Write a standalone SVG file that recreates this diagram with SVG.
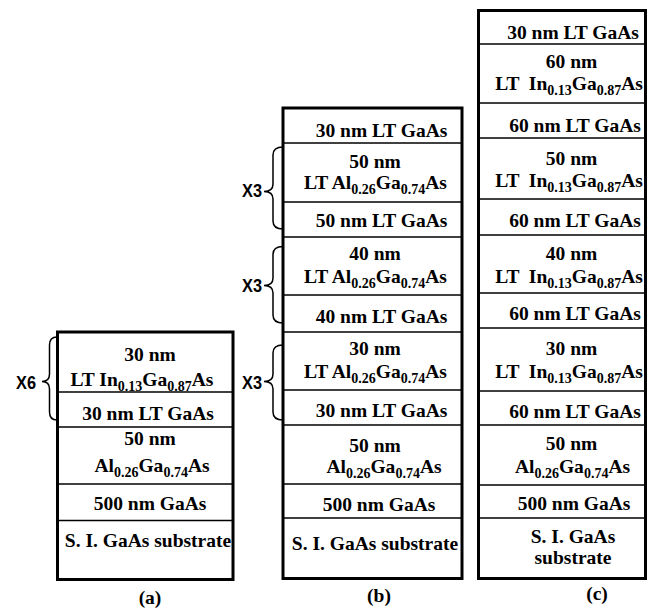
<svg xmlns="http://www.w3.org/2000/svg" width="647" height="610" viewBox="0 0 647 610">
<style>
.box{fill:#fff;stroke:#000;stroke-width:3}
.div{stroke:#000;stroke-width:1.5}
.t{font-family:"Liberation Serif","Times New Roman",serif;font-weight:bold;font-size:19.5px;fill:#000;text-anchor:middle}
.s{font-size:14px}
.x{font-family:"Liberation Sans",Arial,sans-serif;font-weight:bold;font-size:19px;fill:#000;text-anchor:end}
.br{fill:none;stroke:#000;stroke-width:1.5}
</style>
<rect width="647" height="610" fill="#fff"/>
<g id="column-a">
<rect class="box" x="57.5" y="332" width="175.5" height="247.5"/>
<line class="div" x1="57.5" y1="392" x2="233" y2="392"/>
<line class="div" x1="57.5" y1="427" x2="233" y2="427"/>
<line class="div" x1="57.5" y1="484" x2="233" y2="484"/>
<line class="div" x1="57.5" y1="520.5" x2="233" y2="520.5"/>
<text class="t" x="150" y="361">30 nm</text>
<text class="t" x="142" y="386">LT In<tspan class="s" dy="5">0.13</tspan><tspan dy="-5">Ga</tspan><tspan class="s" dy="5">0.87</tspan><tspan dy="-5">As</tspan></text>
<text class="t" x="148" y="420">30 nm LT GaAs</text>
<text class="t" x="150" y="444.5">50 nm</text>
<text class="t" x="152" y="472">Al<tspan class="s" dy="5">0.26</tspan><tspan dy="-5">Ga</tspan><tspan class="s" dy="5">0.74</tspan><tspan dy="-5">As</tspan></text>
<text class="t" x="150" y="510">500 nm GaAs</text>
<text class="t" x="148" y="547">S. I. GaAs substrate</text>
<text class="t" x="150" y="604">(a)</text>
</g>
<g id="column-b">
<rect class="box" x="283" y="108" width="179" height="470.5"/>
<line class="div" x1="283" y1="143" x2="462" y2="143"/>
<line class="div" x1="283" y1="202" x2="462" y2="202"/>
<line class="div" x1="283" y1="237" x2="462" y2="237"/>
<line class="div" x1="283" y1="295" x2="462" y2="295"/>
<line class="div" x1="283" y1="332" x2="462" y2="332"/>
<line class="div" x1="283" y1="390" x2="462" y2="390"/>
<line class="div" x1="283" y1="425" x2="462" y2="425"/>
<line class="div" x1="283" y1="484" x2="462" y2="484"/>
<line class="div" x1="283" y1="518" x2="462" y2="518"/>
<text class="t" x="381.5" y="137">30 nm LT GaAs</text>
<text class="t" x="375" y="168">50 nm</text>
<text class="t" x="375.5" y="189">LT Al<tspan class="s" dy="5">0.26</tspan><tspan dy="-5">Ga</tspan><tspan class="s" dy="5">0.74</tspan><tspan dy="-5">As</tspan></text>
<text class="t" x="381.5" y="227">50 nm LT GaAs</text>
<text class="t" x="375" y="260">40 nm</text>
<text class="t" x="375.5" y="283">LT Al<tspan class="s" dy="5">0.26</tspan><tspan dy="-5">Ga</tspan><tspan class="s" dy="5">0.74</tspan><tspan dy="-5">As</tspan></text>
<text class="t" x="381.5" y="323">40 nm LT GaAs</text>
<text class="t" x="375" y="355">30 nm</text>
<text class="t" x="375.5" y="378">LT Al<tspan class="s" dy="5">0.26</tspan><tspan dy="-5">Ga</tspan><tspan class="s" dy="5">0.74</tspan><tspan dy="-5">As</tspan></text>
<text class="t" x="381.5" y="417">30 nm LT GaAs</text>
<text class="t" x="375" y="452">50 nm</text>
<text class="t" x="384" y="473">Al<tspan class="s" dy="5">0.26</tspan><tspan dy="-5">Ga</tspan><tspan class="s" dy="5">0.74</tspan><tspan dy="-5">As</tspan></text>
<text class="t" x="379" y="511">500 nm GaAs</text>
<text class="t" x="375" y="550">S. I. GaAs substrate</text>
<text class="t" x="379" y="602">(b)</text>
</g>
<g id="column-c">
<rect class="box" x="478.5" y="10.5" width="167" height="568"/>
<line class="div" x1="478.5" y1="44" x2="645.5" y2="44"/>
<line class="div" x1="478.5" y1="103" x2="645.5" y2="103"/>
<line class="div" x1="478.5" y1="138" x2="645.5" y2="138"/>
<line class="div" x1="478.5" y1="199" x2="645.5" y2="199"/>
<line class="div" x1="478.5" y1="235" x2="645.5" y2="235"/>
<line class="div" x1="478.5" y1="293" x2="645.5" y2="293"/>
<line class="div" x1="478.5" y1="328" x2="645.5" y2="328"/>
<line class="div" x1="478.5" y1="391" x2="645.5" y2="391"/>
<line class="div" x1="478.5" y1="425" x2="645.5" y2="425"/>
<line class="div" x1="478.5" y1="485" x2="645.5" y2="485"/>
<line class="div" x1="478.5" y1="518" x2="645.5" y2="518"/>
<text class="t" x="573" y="38.5">30 nm LT GaAs</text>
<text class="t" x="571.5" y="68">60 nm</text>
<text class="t" x="569" y="90" xml:space="preserve">LT  In<tspan class="s" dy="5">0.13</tspan><tspan dy="-5">Ga</tspan><tspan class="s" dy="5">0.87</tspan><tspan dy="-5">As</tspan></text>
<text class="t" x="575" y="132">60 nm LT GaAs</text>
<text class="t" x="571.5" y="165">50 nm</text>
<text class="t" x="569" y="187" xml:space="preserve">LT  In<tspan class="s" dy="5">0.13</tspan><tspan dy="-5">Ga</tspan><tspan class="s" dy="5">0.87</tspan><tspan dy="-5">As</tspan></text>
<text class="t" x="575" y="227">60 nm LT GaAs</text>
<text class="t" x="571.5" y="260">40 nm</text>
<text class="t" x="569" y="283" xml:space="preserve">LT  In<tspan class="s" dy="5">0.13</tspan><tspan dy="-5">Ga</tspan><tspan class="s" dy="5">0.87</tspan><tspan dy="-5">As</tspan></text>
<text class="t" x="575" y="320">60 nm LT GaAs</text>
<text class="t" x="571.5" y="355">30 nm</text>
<text class="t" x="569" y="378" xml:space="preserve">LT  In<tspan class="s" dy="5">0.13</tspan><tspan dy="-5">Ga</tspan><tspan class="s" dy="5">0.87</tspan><tspan dy="-5">As</tspan></text>
<text class="t" x="575" y="418">60 nm LT GaAs</text>
<text class="t" x="571.5" y="450">50 nm</text>
<text class="t" x="572.5" y="473">Al<tspan class="s" dy="5">0.26</tspan><tspan dy="-5">Ga</tspan><tspan class="s" dy="5">0.74</tspan><tspan dy="-5">As</tspan></text>
<text class="t" x="574" y="510">500 nm GaAs</text>
<text class="t" x="573" y="543">S. I. GaAs</text>
<text class="t" x="573" y="563.5">substrate</text>
<text class="t" x="597" y="600">(c)</text>
</g>
<g id="connectors">
<g id="brace-a">
<path class="br" d="M57,337 Q49.5,337 49.5,345 L49.5,374 Q49.5,381.5 42,381.5 Q49.5,381.5 49.5,389 L49.5,412 Q49.5,420 57,420"/>
<text class="x" x="36" y="389" textLength="20" lengthAdjust="spacingAndGlyphs">X6</text>
</g>
<g id="brace-b1">
<path class="br" d="M283,147 Q273,147 273,155 L273,184 Q273,191.5 264,191.5 Q273,191.5 273,199 L273,221 Q273,229 283,229"/>
<text class="x" x="262" y="197" textLength="20" lengthAdjust="spacingAndGlyphs">X3</text>
</g>
<g id="brace-b2">
<path class="br" d="M283,246.5 Q273,246.5 273,254.5 L273,278 Q273,285.5 264,285.5 Q273,285.5 273,293 L273,315 Q273,323 283,323"/>
<text class="x" x="262" y="292" textLength="20" lengthAdjust="spacingAndGlyphs">X3</text>
</g>
<g id="brace-b3">
<path class="br" d="M283,345 Q273,345 273,353 L273,374 Q273,381.5 264,381.5 Q273,381.5 273,389 L273,412 Q273,420 283,420"/>
<text class="x" x="262" y="388.5" textLength="20" lengthAdjust="spacingAndGlyphs">X3</text>
</g>
</g>
</svg>
